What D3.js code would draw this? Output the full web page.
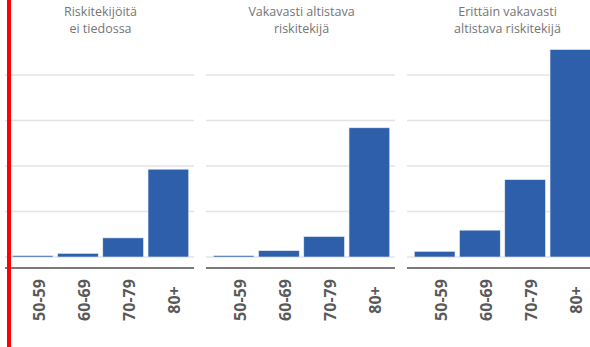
<!DOCTYPE html>
<html>
<head>
<meta charset="utf-8">
<script src="https://cdn.jsdelivr.net/npm/d3@7"></script>
<style>
  html, body { margin: 0; padding: 0; background: #fff; }
  svg { display: block; }
  text { font-family: "Open Sans", "Noto Sans", sans-serif; }
</style>
</head>
<body>
<svg id="chart" width="590" height="347"></svg>
<script>
// Age groups shown on every panel
const ageGroups = ["50-59", "60-69", "70-79", "80+"];

// Panel titles (two lines each)
const panelTitles = [
  ["Riskitekijöitä", "ei tiedossa"],
  ["Vakavasti altistava", "riskitekijä"],
  ["Erittäin vakavasti", "altistava riskitekijä"]
];

// Values per panel, in gridline units
const noRiskFactor   = [0.03, 0.08, 0.42, 1.93];
const severeRisk     = [0.03, 0.14, 0.45, 2.84];
const verySevereRisk = [0.125, 0.59, 1.70, 4.56];

// Gridline values
const gridValues = [0, 1, 2, 3, 4];

const seriesByPanel = [noRiskFactor, severeRisk, verySevereRisk];

const svg = d3.select("#chart");

const panelStart = 5, panelStep = 201, panelWidth = 189;
const baseY = 257, topGridY = 75, axisY = 268;

const y = d3.scaleLinear().domain([0, 4]).range([baseY, topGridY]);

seriesByPanel.forEach((values, i) => {
  const x0 = panelStart + panelStep * i;
  const g = svg.append("g");

  const x = d3.scaleBand()
    .domain(ageGroups)
    .range([x0 + 5, x0 + 186])
    .paddingInner(0.1)
    .paddingOuter(0.05);

  // horizontal gridlines
  g.selectAll("line.grid")
    .data(gridValues)
    .join("line")
    .attr("class", "grid")
    .attr("x1", x0)
    .attr("x2", x0 + panelWidth)
    .attr("y1", d => y(d))
    .attr("y2", d => y(d))
    .attr("stroke", "#e4e4e4")
    .attr("stroke-width", 1.5);

  // bars
  g.selectAll("rect.bar")
    .data(ageGroups.map((a, k) => ({ age: a, value: values[k] })))
    .join("rect")
    .attr("class", "bar")
    .attr("x", d => x(d.age))
    .attr("width", x.bandwidth())
    .attr("y", d => y(d.value))
    .attr("height", d => y(0) - y(d.value))
    .attr("fill", "#2e5fab")
    .attr("stroke", "#e8eef7")
    .attr("stroke-width", 0.6);

  // dark axis line below the bars
  g.append("line")
    .attr("x1", x0)
    .attr("x2", x0 + panelWidth)
    .attr("y1", axisY)
    .attr("y2", axisY)
    .attr("stroke", "#7a7a7a")
    .attr("stroke-width", 2.2);

  // rotated category labels
  const axis = d3.axisBottom(x).tickSize(0).tickPadding(0);
  const ax = g.append("g").attr("transform", `translate(0,${axisY})`).call(axis);
  ax.select(".domain").remove();
  ax.selectAll(".tick text")
    .attr("transform", "translate(12,32) rotate(-90)")
    .attr("x", 0)
    .attr("y", 0)
    .attr("dy", "0")
    .attr("text-anchor", "middle")
    .attr("fill", "#595959")
    .style("font-size", "16px")
    .style("font-weight", "700");

  // panel title, one text element per line
  const cx = (x.range()[0] + x.range()[1]) / 2 + (i === 2 ? 5 : 0);
  panelTitles[i].forEach((line, k) => {
    g.append("text")
      .attr("x", cx)
      .attr("y", 15.5 + k * 17)
      .attr("text-anchor", "middle")
      .attr("fill", "#757575")
      .style("font-size", "12.5px")
      .text(line);
  });
});

// red vertical marker at the left edge
svg.append("rect")
  .attr("x", 7)
  .attr("y", 0)
  .attr("width", 4)
  .attr("height", 347)
  .attr("fill", "#ff0000");
</script>
</body>
</html>
